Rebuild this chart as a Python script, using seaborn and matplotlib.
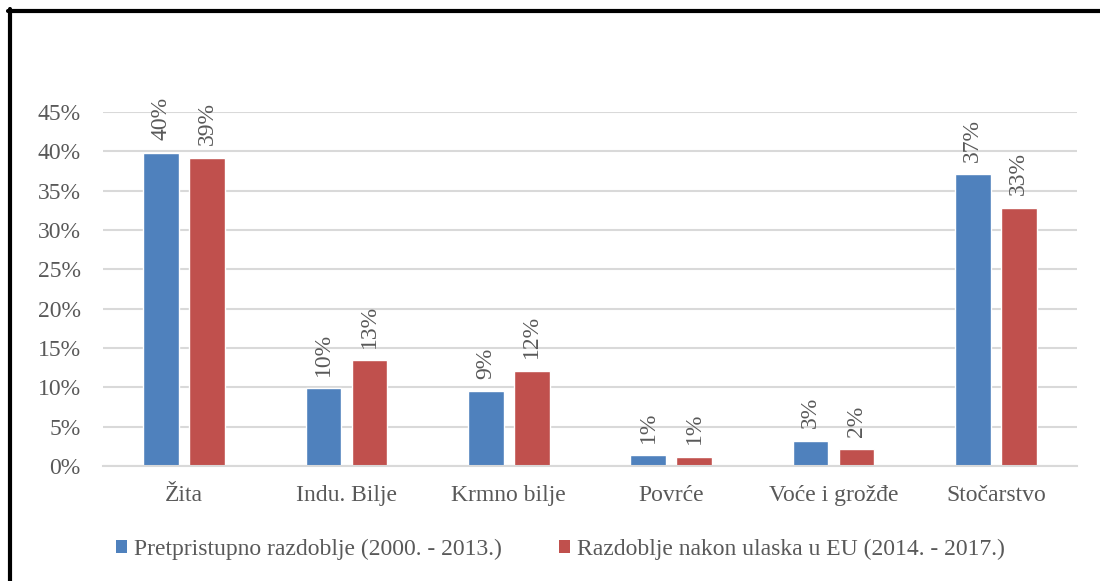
import matplotlib.pyplot as plt
import pandas as pd
import seaborn as sns
from matplotlib.lines import Line2D
from matplotlib.patches import Patch

# Data
categories = ["Žita", "Indu. Bilje", "Krmno bilje", "Povrće", "Voće i grožđe", "Stočarstvo"]
series = [
    "Pretpristupno razdoblje (2000. - 2013.)",
    "Razdoblje nakon ulaska u EU (2014. - 2017.)",
]
pre_eu = [0.398, 0.099, 0.0949, 0.0138, 0.032, 0.371]
post_eu = [0.392, 0.1345, 0.121, 0.0116, 0.021, 0.328]
y_ticks = [0.0, 0.05, 0.10, 0.15, 0.20, 0.25, 0.30, 0.35, 0.40, 0.45]
y_tick_labels = ["0%", "5%", "10%", "15%", "20%", "25%", "30%", "35%", "40%", "45%"]
colors = ["#4f81bd", "#c0504d"]

df = pd.DataFrame(
    {
        "kategorija": categories * 2,
        "razdoblje": [series[0]] * len(categories) + [series[1]] * len(categories),
        "udio": pre_eu + post_eu,
    }
)

sns.set_style("white")
plt.rcParams["font.family"] = ["Liberation Serif", "DejaVu Serif"]
text_color = "#595959"
fsize = 17

fig = plt.figure(figsize=(11, 5.81), dpi=100)
ax = fig.add_axes([103 / 1100, 115 / 581, 974 / 1100, 354 / 581])

sns.barplot(
    data=df,
    x="kategorija",
    y="udio",
    hue="razdoblje",
    palette=colors,
    saturation=1,
    width=0.566,
    gap=0.22,
    legend=False,
    ax=ax,
)

# Value labels, rotated like the original
for cont in ax.containers:
    ax.bar_label(
        cont,
        labels=[f"{v * 100:.0f}%" for v in cont.datavalues],
        rotation=90,
        padding=9,
        fontsize=fsize,
        color=text_color,
    )

ax.set_ylim(0, 0.45)
ax.set_xlim(-0.5, 5.5)
ax.set_yticks(y_ticks, labels=y_tick_labels)
ax.set_xlabel("")
ax.set_ylabel("")
ax.yaxis.grid(True, color="#d9d9d9", linewidth=1.5)
ax.set_axisbelow(True)
for side in ["top", "left", "right"]:
    ax.spines[side].set_visible(False)
ax.spines["bottom"].set_color("#d9d9d9")
ax.spines["bottom"].set_linewidth(1.5)
ax.tick_params(axis="y", length=0, pad=16, labelsize=fsize, labelcolor=text_color)
ax.tick_params(axis="x", length=0, pad=14, labelsize=fsize, labelcolor=text_color)

# Legend below the plot
handles = [Patch(facecolor=c, edgecolor="none") for c in colors]
fig.legend(
    handles,
    series,
    loc="center left",
    bbox_to_anchor=(116 / 1100, 1 - 549 / 581),
    ncol=2,
    frameon=False,
    fontsize=fsize,
    labelcolor=text_color,
    handlelength=0.47,
    handleheight=0.47,
    handletextpad=0.3,
    columnspacing=2.4,
    borderpad=0,
    borderaxespad=0,
)

# Black frame around the chart (top and left edges visible)
fig.add_artist(Line2D([8 / 1100, 1], [1 - 10.5 / 581] * 2, transform=fig.transFigure, color="black", lw=3))
fig.add_artist(Line2D([9.5 / 1100] * 2, [0, 1 - 9 / 581], transform=fig.transFigure, color="black", lw=3))

fig.savefig("out.png", dpi=100)
